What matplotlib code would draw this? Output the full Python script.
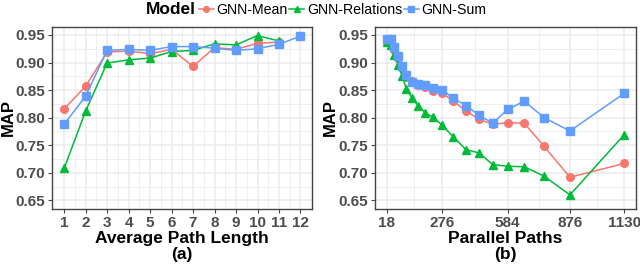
import numpy as np
import matplotlib.pyplot as plt

plt.rcParams['font.family'] = ['Liberation Sans', 'DejaVu Sans']

# panel (a): average path length
path_len = [1, 2, 3, 4, 5, 6, 7, 8, 9, 10, 11, 12]
mean_a = [0.816, 0.857, 0.919, 0.921, 0.916, 0.924, 0.893, 0.927, 0.924, 0.935, 0.937]
rel_a = [0.708, 0.812, 0.899, 0.905, 0.908, 0.920, 0.922, 0.934, 0.932, 0.949, 0.939]
sum_a = [0.788, 0.839, 0.922, 0.924, 0.922, 0.929, 0.929, 0.926, 0.922, 0.925, 0.933, 0.948]

# panel (b): parallel paths
par_paths = [18, 36, 52, 71, 90, 110, 136, 164, 197, 234, 276, 330, 389, 451, 514,
             584, 662, 755, 876, 1130]
mean_b = [0.938, 0.937, 0.923, 0.908, 0.890, 0.874, 0.866, 0.860, 0.855, 0.848, 0.845,
          0.830, 0.812, 0.797, 0.788, 0.791, 0.790, 0.748, 0.692, 0.717]
rel_b = [0.937, 0.931, 0.914, 0.896, 0.875, 0.852, 0.836, 0.822, 0.809, 0.801, 0.787,
         0.765, 0.742, 0.736, 0.715, 0.712, 0.711, 0.694, 0.660, 0.769]
sum_b = [0.942, 0.943, 0.928, 0.912, 0.894, 0.877, 0.865, 0.862, 0.859, 0.853, 0.851,
         0.835, 0.822, 0.804, 0.790, 0.815, 0.830, 0.800, 0.776, 0.844]
b_ticks = [18, 276, 584, 876, 1130]

series = ['GNN-Mean', 'GNN-Relations', 'GNN-Sum']
colors = ['#F8766D', '#00BA38', '#619CFF']
markers = ['o', '^', 's']

fig = plt.figure(figsize=(6.4, 2.64), dpi=100)
ax1 = fig.add_axes([52.3 / 640, 55.3 / 264, 260 / 640, 182 / 264])
ax2 = fig.add_axes([375 / 640, 55.3 / 264, 261 / 640, 182 / 264])

tick_col = '#4D4D4D'


def style(ax, xlabel):
    ax.set_ylim(0.635, 0.965)
    ax.set_yticks([0.65, 0.70, 0.75, 0.80, 0.85, 0.90, 0.95])
    ax.set_yticklabels(['%.2f' % v for v in ax.get_yticks()])
    ax.grid(True, which='major', color='#EBEBEB', lw=1.1, zorder=0)
    ax.grid(True, which='minor', color='#EBEBEB', lw=0.55, zorder=0)
    ax.set_axisbelow(True)
    for s in ax.spines.values():
        s.set_color('#444444')
        s.set_linewidth(1.0)
    ax.tick_params(which='major', length=3, width=0.8, color='#444444',
                   labelsize=11, labelcolor=tick_col, pad=2)
    ax.tick_params(which='minor', length=0)
    for lab in ax.get_xticklabels() + ax.get_yticklabels():
        lab.set_fontweight('bold')
    ax.set_xlabel(xlabel, fontsize=12.5, fontweight='bold', labelpad=1, linespacing=1.05)
    ax.set_ylabel('MAP', fontsize=12, fontweight='bold')
    ax.yaxis.set_label_coords(-0.142, 0.5)


ys_a = [mean_a, rel_a, sum_a]
for i in range(3):
    ax1.plot(path_len[:len(ys_a[i])], ys_a[i], color=colors[i], marker=markers[i],
             ms=5.5, lw=1.1, label=series[i])
ax1.set_xlim(0.45, 12.55)
ax1.set_xticks(path_len)
ax1.set_xticks(np.arange(1.5, 12, 1), minor=True)
ax1.set_yticks(np.arange(0.675, 0.95, 0.05), minor=True)
style(ax1, 'Average Path Length\n(a)')

ys_b = [mean_b, rel_b, sum_b]
for i in range(3):
    ax2.plot(par_paths, ys_b[i], color=colors[i], marker=markers[i],
             ms=5.5, lw=1.1, label=series[i])
ax2.set_xlim(-37.6, 1185.6)
ax2.set_xticks(b_ticks)
ax2.set_xticks([(b_ticks[j] + b_ticks[j + 1]) / 2 for j in range(4)], minor=True)
ax2.set_yticks(np.arange(0.675, 0.95, 0.05), minor=True)
style(ax2, 'Parallel Paths\n(b)')

fig.text(196 / 640, 1 - 10 / 264, 'Model', fontsize=12.5, fontweight='bold',
         ha='right', va='center')
handles, labels = ax1.get_legend_handles_labels()
fig.legend(handles, labels, loc='center left', bbox_to_anchor=(199 / 640, 1 - 10 / 264),
           ncol=3, frameon=False, fontsize=10.2, handlelength=1.05, handletextpad=0.2,
           columnspacing=0.1, borderpad=0, borderaxespad=0, markerscale=0.75)

fig.savefig('out.png', dpi=100)
